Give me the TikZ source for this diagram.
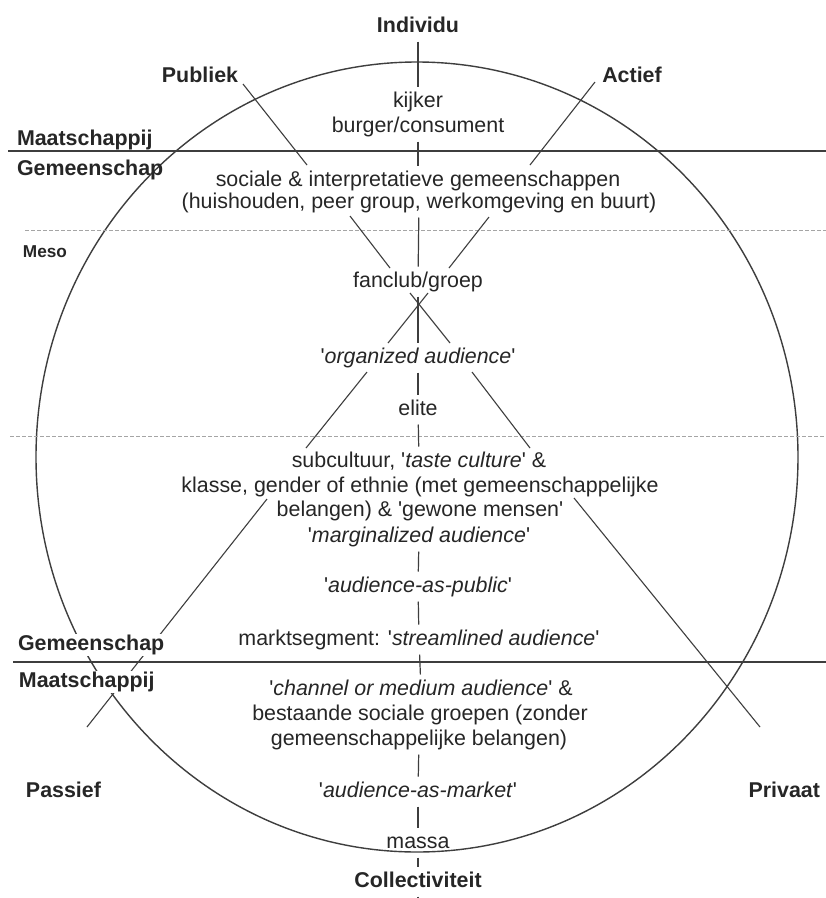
\documentclass[tikz,border=0pt]{standalone}
\usepackage{fontspec}
\newfontfamily\labfont{Liberation Sans}
\pgfdeclarelayer{bgfill}
\pgfdeclarelayer{lines}
\pgfsetlayers{bgfill,lines,main}
\definecolor{ink}{RGB}{38,38,38}
\definecolor{linecol}{RGB}{62,62,62}
\definecolor{dotcol}{RGB}{165,165,165}
\begin{document}
\begin{tikzpicture}[x=1pt,y=-1pt,
  txt/.style={font=\labfont\fontsize{21.4}{25}\selectfont, text=ink, inner sep=0pt,
    outer sep=5pt, text height=15.5pt, text depth=4.5pt, anchor=base},
  lab/.style={txt, font=\labfont\bfseries\fontsize{21.4}{25}\selectfont},
  smalllab/.style={txt, font=\labfont\bfseries\fontsize{17.2}{20}\selectfont, text height=12.5pt, text depth=3.5pt},
  knockout/.style={fill=white, inner xsep=1pt, inner ysep=1pt},
  axisline/.style={draw=linecol, line width=1.2pt},
  diag/.style={draw=linecol, line width=1.1pt},
  rulesolid/.style={draw=linecol, line width=1.8pt},
  ruledot/.style={draw=dotcol, line width=1pt, dash pattern=on 4pt off 2pt},
  ring/.style={draw=linecol, line width=1.4pt}]

\begin{pgfonlayer}{bgfill}
  \fill[white] (0,0) rectangle (826,898);
\end{pgfonlayer}
\useasboundingbox (0,0) rectangle (826,898);

% ---- axis labels ----
\node[lab] (individu) at (418,32) {Individu};
\node[txt] (kijker) at (418,107) {kijker};
\node[txt] (burger) at (418,132) {burger/consument};
\node[txt] (sociale) at (418,186) {sociale \& interpretatieve gemeenschappen};
\node[txt] (huis) at (419,208) {(huishouden, peer group, werkomgeving en buurt)};
\node[txt] (fanclub) at (418,287) {fanclub/groep};
\node[txt] (organized) at (418,363) {'\textit{organized audience}'};
\node[txt] (elite) at (418,415) {elite};
\node[txt] (subcult) at (419,467) {subcultuur, '\textit{taste culture}' \&};
\node[txt] (klasse) at (420,492) {klasse, gender of ethnie (met gemeenschappelijke};
\node[txt] (belangen) at (420,516) {belangen) \& 'gewone mensen'};
\node[txt] (margin) at (419,542) {'\textit{marginalized audience}'};
\node[txt] (audpub) at (418,592) {'\textit{audience-as-public}'};
\node[txt] (markt) at (419,645) {marktsegment: '\textit{streamlined audience}'};
\node[txt] (channel) at (421,695) {'\textit{channel or medium audience}' \&};
\node[txt] (bestaande) at (420,720) {bestaande sociale groepen (zonder};
\node[txt] (gemeen) at (419,745) {gemeenschappelijke belangen)};
\node[txt] (audmark) at (418,797) {'\textit{audience-as-market}'};
\node[txt] (massa) at (418,848) {massa};
\node[lab] (collect) at (418,887) {Collectiviteit};
\coordinate (axisend) at (418,898);

% ---- side labels ----
\node[lab] (publiek) at (200,82) {Publiek};
\node[lab] (actief) at (632,82) {Actief};
\node[lab, anchor=base west] (maatTop) at (12,145) {Maatschappij};
\node[lab, anchor=base west] (gemTop) at (12,175) {Gemeenschap};
\node[smalllab, anchor=base west] (meso) at (18,257) {Meso};
\node[lab, anchor=base west, knockout] (gemBot) at (12,650) {Gemeenschap};
\node[lab, anchor=base west, knockout] (maatBot) at (13,687) {Maatschappij};
\node[lab, anchor=base west] (passief) at (21,797) {Passief};
\node[lab, anchor=base east] (privaat) at (825,797) {Privaat};

% ---- free ends ----
\coordinate (ctr) at (417,457);
\coordinate (topL) at (8,151);    \coordinate (topR) at (826,151);
\coordinate (botL) at (13,662);   \coordinate (botR) at (826,662);
\coordinate (dotAL) at (25,230);  \coordinate (dotAR) at (826,230);
\coordinate (dotBL) at (10,436);  \coordinate (dotBR) at (826,436);
% diagonal Publiek -> Privaat
\coordinate (a1) at (243,84);  \coordinate (a2) at (307,165);
\coordinate (a3) at (350,216); \coordinate (a4) at (390,268);
\coordinate (a5) at (410,293); \coordinate (a6) at (450,343);
\coordinate (a7) at (472,372); \coordinate (a8) at (530,448);
\coordinate (a9) at (574,498); \coordinate (a10) at (760,727);
% diagonal Actief -> Passief
\coordinate (b1) at (595,82);  \coordinate (b2) at (530,165);
\coordinate (b3) at (489,217); \coordinate (b4) at (449,268);
\coordinate (b5) at (428,293); \coordinate (b6) at (388,343);
\coordinate (b7) at (367,372); \coordinate (b8) at (306,448);
\coordinate (b9) at (267,499); \coordinate (b10) at (87,727);

\begin{pgfonlayer}{lines}
  \draw[ring] (ctr) ellipse [x radius=381pt, y radius=395pt];
  \draw[rulesolid] (topL) -- (topR);
  \draw[rulesolid] (botL) -- (botR);
  \draw[ruledot] (dotAL) -- (dotAR);
  \draw[ruledot] (dotBL) -- (dotBR);
  % axis
  \draw[axisline] (individu) -- (kijker);
  \draw[axisline] (burger) -- (sociale);
  \draw[axisline] (huis) -- (fanclub);
  \draw[axisline] (fanclub) -- (organized);
  \draw[axisline] (organized) -- (elite);
  \draw[axisline] (elite) -- (subcult);
  \draw[axisline] (margin) -- (audpub);
  \draw[axisline] (audpub) -- (markt);
  \draw[axisline] (markt) -- (channel);
  \draw[axisline] (gemeen) -- (audmark);
  \draw[axisline] (audmark) -- (massa);
  \draw[axisline] (massa) -- (collect);
  \draw[axisline] (collect) -- (axisend);
  % diagonals
  \draw[diag] (a1) -- (a2);
  \draw[diag] (a3) -- (a4);
  \draw[diag] (a5) -- (a6);
  \draw[diag] (a7) -- (a8);
  \draw[diag] (a9) -- (a10);
  \draw[diag] (b1) -- (b2);
  \draw[diag] (b3) -- (b4);
  \draw[diag] (b5) -- (b6);
  \draw[diag] (b7) -- (b8);
  \draw[diag] (b9) -- (b10);
\end{pgfonlayer}
\end{tikzpicture}
\end{document}
